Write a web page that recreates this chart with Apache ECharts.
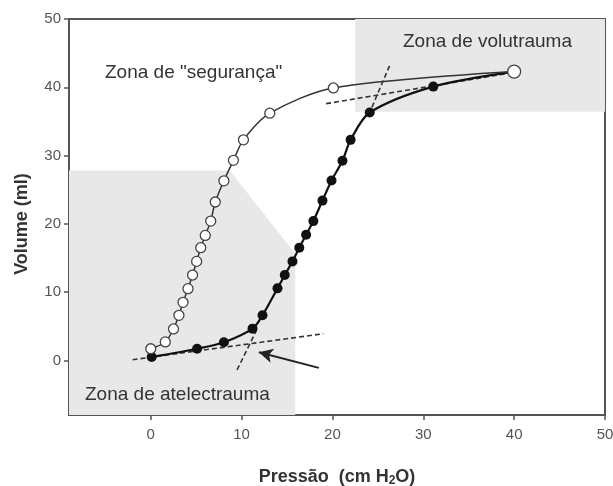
<!DOCTYPE html>
<html>
<head>
<meta charset="utf-8">
<script src="https://cdn.jsdelivr.net/npm/echarts@6/dist/echarts.min.js"></script>
<style>
  html, body { margin: 0; padding: 0; background: #fff; }
  #chart { width: 613px; height: 486px; }
</style>
</head>
<body>
<div id="chart"></div>
<script>
// tick labels
var xTicks = [0, 10, 20, 30, 40, 50];
var yTicks = [0, 10, 20, 30, 40, 50];

// deflation limb (open circles)
var deflP = [0, 1.6, 2.5, 3.1, 3.55, 4.1, 4.6, 5.05, 5.5, 6.0, 6.6, 7.1, 8.05, 9.1, 10.2, 13.1, 20.1, 40];
var deflV = [1.7, 2.7, 4.6, 6.6, 8.5, 10.5, 12.5, 14.5, 16.5, 18.3, 20.4, 23.2, 26.3, 29.3, 32.3, 36.2, 39.9, 42.3];

// inflation limb (filled circles)
var inflP = [0.1, 5.1, 8.05, 11.2, 12.3, 13.95, 14.75, 15.6, 16.35, 17.1, 17.9, 18.9, 19.9, 21.1, 22.0, 24.1, 31.1, 40];
var inflV = [0.5, 1.7, 2.65, 4.65, 6.6, 10.55, 12.5, 14.5, 16.5, 18.4, 20.4, 23.4, 26.35, 29.25, 32.3, 36.3, 40.1, 42.3];

// tangent lines (dashed)
var lowFlatTangent = [[-2, 0.1], [19, 3.9]];
var lowSteepTangent = [[9.5, -1.4], [11.6, 4.3]];
var highSteepTangent = [[24, 36], [26.4, 43.5]];
var highFlatTangent = [[19.3, 37.6], [39.6, 42.1]];
var arrowLine = [[18.5, -1.1], [11.9, 1.2]];

// shaded zones
var atelectraumaZone = [[-9, 27.8], [8.7, 27.8], [15.9, 15.6], [15.9, -8], [-9, -8]];
var volutraumaZone = [[22.5, 50], [50, 50], [50, 36.4], [22.5, 36.4]];
var zones = [atelectraumaZone, volutraumaZone];

function pairs(xs, ys) {
    return xs.map(function (x, i) { return [x, ys[i]]; });
}

function dashed(data) {
    return {
        type: 'line',
        data: data,
        symbol: 'none',
        z: 4,
        lineStyle: { color: '#333', width: 1.6, type: [5, 3] },
        silent: true
    };
}

var chart = echarts.init(document.getElementById('chart'));
var font = '"Liberation Sans", Arial, sans-serif';

chart.setOption({
    animation: false,
    textStyle: { fontFamily: font },
    grid: {
        left: 69, right: 8, top: 19, bottom: 71,
        outerBoundsMode: 'none',
        containLabel: false,
        show: true, borderColor: '#555', borderWidth: 2, backgroundColor: 'transparent'
    },
    xAxis: {
        type: 'value',
        min: -9, max: 50,
        splitLine: { show: false },
        axisLine: { show: true, onZero: false, lineStyle: { color: '#555', width: 2 } },
        axisTick: { show: true, customValues: xTicks, length: 5, lineStyle: { color: '#555', width: 1.5 } },
        axisLabel: { customValues: xTicks, color: '#555', fontSize: 15, margin: 12 },
        name: '{a|Pressão  (cm H}{s|2}{a|O)}',
        nameLocation: 'middle',
        nameGap: 52,
        nameTextStyle: {
            rich: {
                a: { fontSize: 18, fontWeight: 'bold', color: '#333', fontFamily: font },
                s: { fontSize: 12, fontWeight: 'bold', color: '#333', fontFamily: font, padding: [8, 0, 0, 0] }
            }
        }
    },
    yAxis: {
        type: 'value',
        min: -8, max: 50,
        splitLine: { show: false },
        axisLine: { show: true, onZero: false, lineStyle: { color: '#555', width: 2 } },
        axisTick: { show: true, customValues: yTicks, length: 5, lineStyle: { color: '#555', width: 1.5 } },
        axisLabel: { customValues: yTicks, color: '#555', fontSize: 15, margin: 8 },
        name: 'Volume (ml)',
        nameLocation: 'middle',
        nameGap: 38,
        nameTextStyle: { fontSize: 18, fontWeight: 'bold', color: '#333', padding: [0, 0, 0, -14] }
    },
    graphic: [
        { type: 'text', left: 403, top: 32, z: 10,
          style: { text: 'Zona de volutrauma', font: '19px ' + font, fill: '#333' } },
        { type: 'text', left: 105, top: 63, z: 10,
          style: { text: 'Zona de "segurança"', font: '19px ' + font, fill: '#333' } },
        { type: 'text', left: 85, top: 385, z: 10,
          style: { text: 'Zona de atelectrauma', font: '19px ' + font, fill: '#333' } }
    ],
    series: [
        {
            type: 'custom',
            z: 1,
            silent: true,
            data: zones.map(function (z, i) { return [i]; }),
            renderItem: function (params, api) {
                var pts = zones[api.value(0)].map(function (p) { return api.coord(p); });
                return { type: 'polygon', shape: { points: pts }, style: { fill: '#e8e8e8' } };
            }
        },
        dashed(lowFlatTangent),
        dashed(lowSteepTangent),
        dashed(highSteepTangent),
        dashed(highFlatTangent),
        {
            type: 'line',
            data: arrowLine,
            symbol: 'none',
            lineStyle: { width: 0 },
            z: 4,
            markLine: {
                silent: true,
                symbol: ['none', 'arrow'],
                symbolSize: [11, 14],
                label: { show: false },
                lineStyle: { color: '#222', width: 2, type: 'solid' },
                data: [[{ coord: arrowLine[0] }, { coord: arrowLine[1] }]]
            }
        },
        {
            type: 'line',
            name: 'inflação',
            data: pairs(inflP, inflV),
            smooth: 0.3,
            z: 5,
            symbol: 'circle',
            symbolSize: 10,
            itemStyle: { color: '#111' },
            lineStyle: { color: '#111', width: 2.2 }
        },
        {
            type: 'line',
            name: 'deflação',
            data: pairs(deflP, deflV),
            smooth: 0.3,
            z: 6,
            symbol: 'circle',
            symbolSize: function (v, p) { return p.dataIndex === deflP.length - 1 ? 13 : 10; },
            itemStyle: { color: '#fff', borderColor: '#444', borderWidth: 1.3 },
            lineStyle: { color: '#333', width: 1.5 }
        }
    ]
});
</script>
</body>
</html>
